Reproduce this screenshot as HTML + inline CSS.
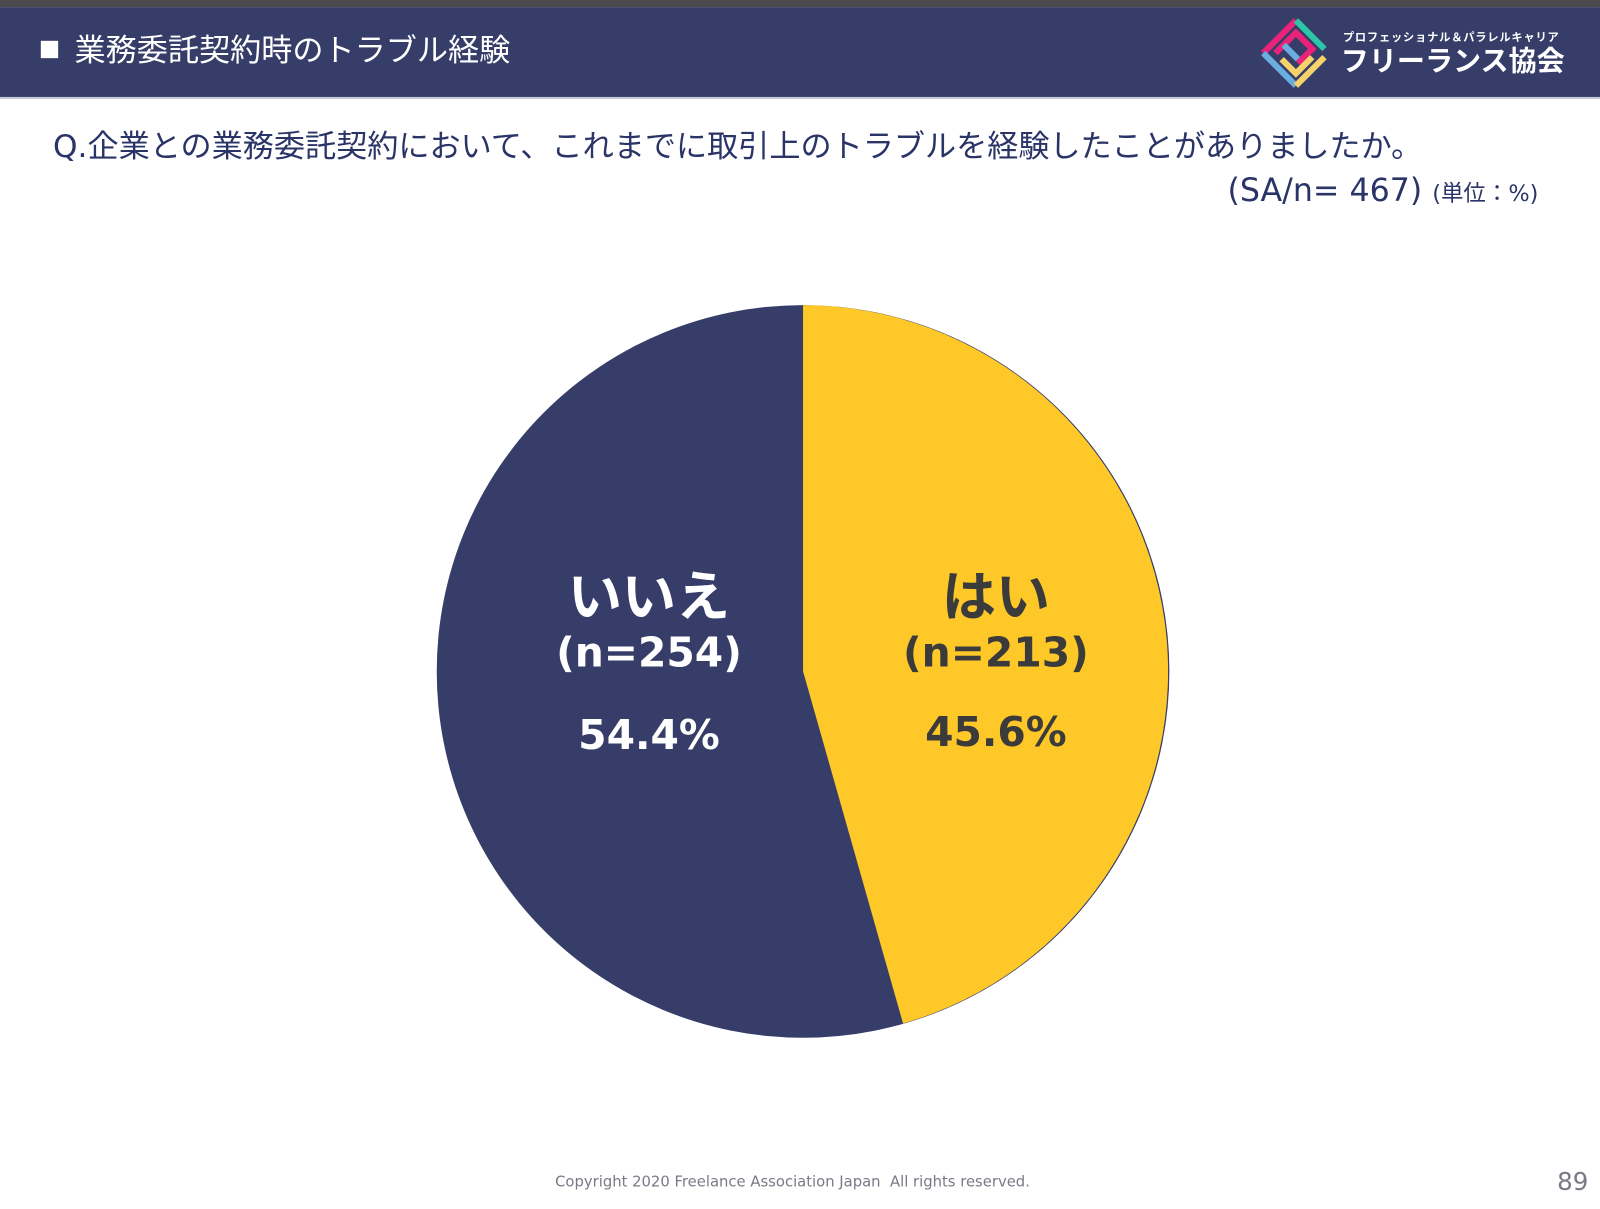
<!DOCTYPE html>
<html><head><meta charset="utf-8"><style>
html,body{margin:0;padding:0;background:#fff;width:1600px;height:1209px;overflow:hidden;position:relative;font-family:"Liberation Sans","Noto Sans CJK JP",sans-serif}
#w{position:absolute;left:0;top:0;width:1568px;height:1185px;transform:scale(1.0204);transform-origin:0 0}
.top{position:absolute;left:0;top:0;width:1600px;height:7px;background:#4b4b4d}
.hdr{position:absolute;left:0;top:7px;width:1600px;height:88px;background:#363d68;border-bottom:2px solid #c8cbd6}
.t{position:absolute;white-space:nowrap}
.v{font-family:"DejaVu Sans","Noto Sans CJK JP",sans-serif}
</style></head><body><div id="w">
<div class="top"></div>
<div class="hdr"></div>
<div class="t" style="left:40px;top:40px;width:17px;height:17px;background:#fff"></div>
<div class="t" style="left:73px;top:25px;font-size:30.5px;color:#fff">業務委託契約時のトラブル経験</div>
<svg class="t" style="left:1232px;top:14px" width="76" height="76" viewBox="0 0 76 76">
<g fill="none" stroke-width="6">
<path d="M6 38 L38 6" stroke="#e9237a"/><path d="M38 6 L66 34" stroke="#2dc6a6"/>
<path d="M6 38 L38 70" stroke="#6aaee0"/><path d="M38 70 L66 42" stroke="#f6d36a"/>
<path d="M18 38 L38 18 L54 34 L40 48" stroke="#e9237a"/><path d="M24 44 L38 58 L54 42" stroke="#f6d36a"/>
<path d="M26 30 L40 44" stroke="#6aaee0"/>
</g></svg>
<div class="t" style="left:1316px;top:28px;font-size:11px;font-weight:bold;color:#fff;letter-spacing:0.8px">プロフェッショナル＆パラレルキャリア</div>
<div class="t" style="left:1314px;top:37px;font-size:27.5px;font-weight:bold;color:#fff">フリーランス協会</div>
<div class="t v" style="left:52px;top:119px;font-size:30.5px;color:#2b3467">Q.企業との業務委託契約において、これまでに取引上のトラブルを経験したことがありましたか。</div>
<div class="t v" style="left:1203px;top:169px;font-size:31px;color:#2b3467">(SA/n= 467) <span style="font-size:22px">(単位：%)</span></div>
<svg class="t" style="left:0;top:0" width="1600" height="1209">
<circle cx="787" cy="658" r="359" fill="#363d68"/>
<path d="M787 658 L787 299 A359 359 0 0 1 885 1003 Z" fill="#fec828"/>
</svg>
<div class="t" style="left:536px;top:543px;width:200px;text-align:center;font-size:53px;font-weight:bold;color:#fff">いいえ</div>
<div class="t v" style="left:536px;top:617px;width:200px;text-align:center;font-size:40px;font-weight:bold;color:#fff">(n=254)</div>
<div class="t v" style="left:536px;top:698px;width:200px;text-align:center;font-size:40px;font-weight:bold;color:#fff">54.4%</div>
<div class="t" style="left:876px;top:543px;width:200px;text-align:center;font-size:53px;font-weight:bold;color:#3b3b3b">はい</div>
<div class="t v" style="left:876px;top:617px;width:200px;text-align:center;font-size:40px;font-weight:bold;color:#3b3b3b">(n=213)</div>
<div class="t v" style="left:876px;top:695px;width:200px;text-align:center;font-size:40px;font-weight:bold;color:#3b3b3b">45.6%</div>
<div class="t v" style="left:544px;top:1151px;font-size:14.5px;color:#7a7a86">Copyright 2020 Freelance Association Japan&nbsp; All rights reserved.</div>
<div class="t v" style="left:1526px;top:1144px;font-size:24px;color:#7a7a86">89</div>
</div></body></html>
